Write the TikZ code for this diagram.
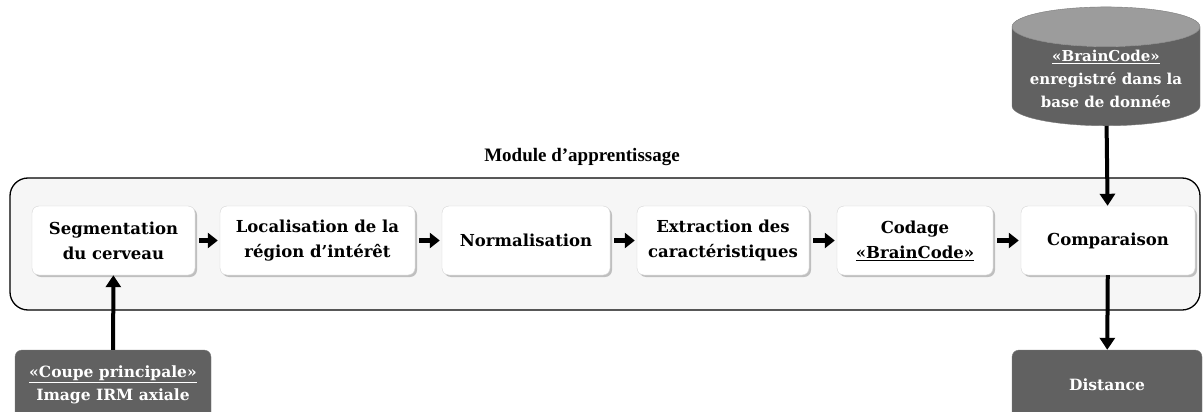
\documentclass[tikz,border=0pt]{standalone}
\usepackage{fontspec}
\setmainfont{DejaVu Serif}
\newfontfamily\titlefont{Liberation Serif}
\usetikzlibrary{positioning,arrows.meta,shapes.geometric,shadows}

\definecolor{modfill}{HTML}{F6F6F6}
\definecolor{boxline}{HTML}{D4D4D4}
\definecolor{darkbox}{HTML}{616161}
\definecolor{darkline}{HTML}{7A7A7A}
\definecolor{dbtop}{HTML}{9C9C9C}

\begin{document}
\begin{tikzpicture}[x=1pt,y=-1pt,font=\bfseries\fontsize{16.5}{25}\selectfont]
    \tikzstyle{stage}=[rounded corners=7pt,draw=boxline,fill=white,align=center,
        minimum height=69pt,inner sep=2pt,
        drop shadow={shadow xshift=2pt,shadow yshift=-2pt,opacity=0.22,fill=black}]
    \tikzstyle{darkstage}=[rounded corners=7pt,draw=darkline,fill=darkbox,text=white,
        align=center,font=\bfseries\fontsize{15.5}{23}\selectfont]
    \tikzstyle{flow}=[-{Triangle[length=10pt,width=15pt]},line width=5pt,black,
        shorten <=4pt,shorten >=2pt]
    \tikzstyle{vflow}=[-{Triangle[length=12pt,width=15pt]},line width=4pt,black]

    \useasboundingbox (0,0) rectangle (1204,412);

    % Draw the module frame and its title
    \node[draw=black,line width=1.3pt,fill=modfill,rounded corners=18pt,
        minimum width=1190pt,minimum height=132pt] (M) at (605,244) {};
    \node[font=\titlefont\bfseries\fontsize{19}{22}\selectfont] (title) at (582,157) {Module d’apprentissage};

    % Draw the stages of the module
    \node[stage,minimum width=163pt] (S-1) at (113.5,240.5) {Segmentation\\du cerveau};
    \node[stage,minimum width=195pt] (S-2) at (317.5,240.5) {Localisation de la\\région d’intérêt};
    \node[stage,minimum width=168pt] (S-3) at (526,240.5) {Normalisation};
    \node[stage,minimum width=172pt] (S-4) at (723,240.5) {Extraction des\\caractéristiques};
    \node[stage,minimum width=156pt] (S-5) at (915,240.5) {Codage\\\underline{«BrainCode»}};
    \node[stage,minimum width=174pt] (S-6) at (1108,240.5) {Comparaison};

    % Connect every stage with the next one
    \foreach \source/\dest in {1/2,2/3,3/4,4/5,5/6}
        \draw[flow] (S-\source) -- (S-\dest);

    % Input slice, database and output
    \node[darkstage,minimum width=196pt,minimum height=70pt] (I) at (113,385)
        {\underline{«Coupe principale»}\\Image IRM axiale};
    \node[cylinder,shape border rotate=90,aspect=0.25,draw=darkline,
        cylinder uses custom fill,cylinder body fill=darkbox,cylinder end fill=dbtop,
        text=white,align=center,font=\bfseries\fontsize{15}{23}\selectfont,
        minimum width=188pt,minimum height=105pt] (DB) at (1106,79)
        {\underline{«BrainCode»}\\enregistré dans la\\base de donnée};
    \node[darkstage,minimum width=190pt,minimum height=70pt] (D) at (1107,385) {Distance};

    \draw[vflow] (I) -- (S-1);
    \draw[vflow] (DB) -- (S-6);
    \draw[vflow] (S-6) -- (D);
\end{tikzpicture}
\end{document}
